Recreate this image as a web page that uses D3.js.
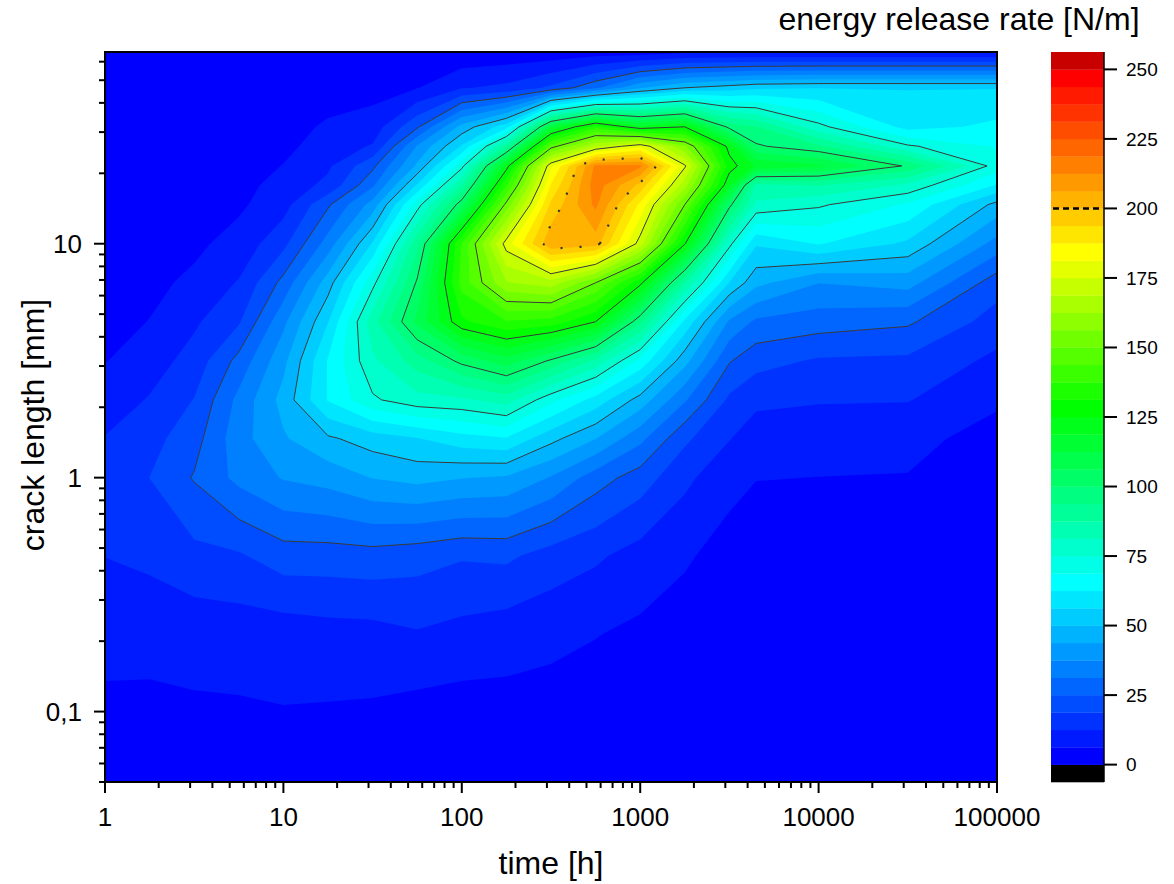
<!DOCTYPE html>
<html><head><meta charset="utf-8">
<script src="https://cdn.jsdelivr.net/npm/d3@7"></script>
<style>
body{margin:0;background:#fff;}
text{font-family:"Liberation Sans",Arial,sans-serif;fill:#000;}
</style></head><body>
<svg id="chart" width="1174" height="884"></svg>
<script>
// ---------------- data ----------------
// time nodes [h]
const timeNodes = [1, 1.778, 3.162, 5.623, 10, 17.78, 31.62, 56.23, 100, 177.8, 316.2, 562.3, 1000, 1778, 3162, 4467, 10000, 31623, 100000];
// crack length nodes [mm], from the largest to the smallest
const crackNodes = [66, 46.4, 31.6, 26.1, 21.5, 17.8, 14.7, 10, 6.81, 4.64, 3.16, 2.15, 1.47, 1, 0.464, 0.215, 0.1, 0.05];
// energy release rate [N/m] at each time node, listed along crackNodes
const G_t1      = [0.1, 0.15, 0.3, 0.5, 0.7, 1, 1.4, 2.2, 3.2, 4.3, 6, 9, 12.8, 14.5, 12.6, 8.5, 4.8, 3];
const G_t1_8    = [0.1, 0.2, 0.5, 0.8, 1.1, 1.6, 2.2, 3.4, 4.8, 6.4, 9.5, 13, 16.5, 18.8, 14, 8, 5, 3];
const G_t3_2    = [0.1, 0.3, 0.8, 1.2, 1.8, 2.5, 3.3, 5, 7.5, 11.5, 15, 19, 22.5, 25.5, 17, 8.5, 5.4, 3];
const G_t5_6    = [0.2, 0.6, 1.5, 2, 2.8, 3.8, 5.2, 8.5, 13, 18, 27, 33, 35, 33, 18, 9, 5.5, 3];
const G_t10     = [0.3, 1.2, 3, 4.5, 6.5, 9, 10, 17, 27, 36, 42, 46, 43, 38, 22, 9, 6, 3.2];
const G_t18     = [0.5, 2, 7.5, 9.5, 11.5, 14, 24, 34, 47, 56, 63, 63, 49, 40, 22, 10, 5.7, 3];
const G_t32     = [0.8, 4, 9, 13, 23.5, 30, 40, 57, 73, 85, 80, 74, 53, 44, 22.5, 10.3, 5.4, 2.5];
const G_t56     = [1, 6, 24, 38, 45, 57, 72, 92, 101, 108, 90.7, 79, 56, 45.8, 21.2, 12, 4, 2];
const G_t100    = [1.5, 12, 46, 57, 73, 88, 104, 138, 140, 130, 102, 80, 60, 44, 19.4, 10.5, 3.5, 1.8];
const G_t178    = [2, 14, 60, 90, 122, 137, 152, 178, 162, 137, 110, 84, 62, 43, 20, 9, 4, 2];
const G_t316    = [2, 20, 113, 147, 180, 188, 195, 205, 166, 135, 99, 70.6, 52, 37, 16, 8, 3.5, 1.8];
const G_t562    = [3, 30, 135, 168, 214, 216, 214, 203, 150, 125, 86, 60, 44, 28, 13.5, 6.5, 3, 1.5];
const G_t1000   = [3, 43, 120, 180, 214, 198, 186, 172, 127, 95, 67, 47.5, 33, 22, 10, 5, 2.5, 1.2];
const G_t1778   = [5, 50, 125, 157, 176, 165, 150, 125.5, 88, 61, 46, 32, 20, 14, 7, 3.5, 1.5, 0.8];
const G_t3162   = [5, 53, 98, 122.5, 128, 119.7, 102, 77, 56, 36.5, 25.5, 17.5, 12.8, 8, 4, 2, 1, 0.6];
const G_t4467   = [5, 55, 94, 101, 118, 86, 80, 57, 45.6, 30, 21, 14, 9, 6.4, 3, 1.5, 0.8, 0.5];
const G_t10000  = [5, 56, 77, 95, 113.6, 88, 76, 63, 37.6, 28, 18, 13, 8.5, 6.2, 3, 1.5, 0.8, 0.5];
const G_t31623  = [5, 56, 60, 76, 99, 80, 68, 55, 40, 26, 17.5, 12.8, 8, 6, 3, 1.5, 0.8, 0.5];
const G_t100000 = [5, 56, 64, 68, 72, 62, 48, 35, 21.5, 16, 11, 7.2, 4, 2.5, 1.5, 1, 0.5, 0.3];

const xTickValues = [1, 10, 100, 1000, 10000, 100000];
const xTickLabels = ["1", "10", "100", "1000", "10000", "100000"];
const yTickValues = [0.1, 1, 10];
const yTickLabels = ["0,1", "1", "10"];
const colorbarTicks = [0, 25, 50, 75, 100, 125, 150, 175, 200, 225, 250];
const levelStep = 6.25;
const levelCount = 41;            // 0 ... 250
const lineLevels = [25, 50, 75, 100, 125, 150, 175];
const dottedLevel = 200;

// ---------------- styles ----------------
const colorStops = [[0, [0, 0, 255]], [10, [0, 255, 255]], [20, [0, 255, 0]], [29, [255, 255, 0]], [39, [255, 0, 0]]];
function bandColor(k) {
  if (k < 0) return "#000";
  if (k >= 40) return "rgb(200,0,0)";
  for (let s = 0; s < colorStops.length - 1; s++) {
    const [k0, c0] = colorStops[s], [k1, c1] = colorStops[s + 1];
    if (k <= k1) {
      const f = (k - k0) / (k1 - k0);
      return "rgb(" + c0.map((v, i) => Math.round(v + (c1[i] - v) * f)).join(",") + ")";
    }
  }
}

// ---------------- layout ----------------
const svg = d3.select("#chart");
const X0 = 105, X1 = 997, Y0 = 52, Y1 = 782;
const x = d3.scaleLog().domain([1, 1e5]).range([X0, X1]);
const y = d3.scaleLog().domain([0.05, 66]).range([Y1, Y0]);

const columns = [G_t1, G_t1_8, G_t3_2, G_t5_6, G_t10, G_t18, G_t32, G_t56, G_t100, G_t178,
  G_t316, G_t562, G_t1000, G_t1778, G_t3162, G_t4467, G_t10000, G_t31623, G_t100000];
const nx = timeNodes.length, ny = crackNodes.length;
const values = new Array(nx * ny);
for (let j = 0; j < ny; j++) for (let i = 0; i < nx; i++) values[j * nx + i] = columns[i][j];

const gx = d3.scaleLinear().domain(d3.range(nx)).range(timeNodes.map(t => x(t))).clamp(true);
const gy = d3.scaleLinear().domain(d3.range(ny)).range(crackNodes.map(a => y(a))).clamp(true);
const P = p => [gx(p[0] - 0.5), gy(p[1] - 0.5)];
const fmt = q => q[0].toFixed(2) + "," + q[1].toFixed(2);

function polyPath(mp) {
  return mp.coordinates.map(poly => poly.map(ring => "M" + ring.map(p => fmt(P(p))).join("L") + "Z").join("")).join("");
}
function edgeSides(q) {
  const s = [];
  if (Math.abs(q[0] - X0) < 0.01) s.push("L");
  if (Math.abs(q[0] - X1) < 0.01) s.push("R");
  if (Math.abs(q[1] - Y0) < 0.01) s.push("T");
  if (Math.abs(q[1] - Y1) < 0.01) s.push("B");
  return s;
}
function linePath(mp) {
  let d = "";
  mp.coordinates.forEach(poly => poly.forEach(ring => {
    const pts = ring.map(P);
    const f = pts[0], l = pts[pts.length - 1];
    if (f[0] !== l[0] || f[1] !== l[1]) pts.push(f);
    let pen = false;
    for (let i = 0; i < pts.length - 1; i++) {
      const a = pts[i], b = pts[i + 1];
      const sa = edgeSides(a), sb = edgeSides(b);
      if (sa.some(s => sb.includes(s))) { pen = false; continue; }
      if (!pen) { d += "M" + fmt(a); pen = true; }
      d += "L" + fmt(b);
    }
  }));
  return d;
}

// filled bands
const fillThresholds = d3.range(levelCount).map(k => k * levelStep);
const fills = d3.contours().size([nx, ny]).smooth(true).thresholds(fillThresholds)(values);
svg.append("g").selectAll("path").data(fills).join("path")
  .attr("d", polyPath)
  .attr("fill", (c, k) => bandColor(k))
  .attr("fill-rule", "evenodd");

// contour lines
const lines = d3.contours().size([nx, ny]).thresholds(lineLevels)(values);
svg.append("g").selectAll("path").data(lines).join("path")
  .attr("d", linePath).attr("fill", "none").attr("stroke", "#3a3a3a").attr("stroke-width", 1);
const dotted = d3.contours().size([nx, ny]).thresholds([dottedLevel])(values);
svg.append("g").selectAll("path").data(dotted).join("path")
  .attr("d", linePath).attr("fill", "none").attr("stroke", "#333").attr("stroke-width", 2.2)
  .attr("stroke-dasharray", "2,17");

// frame
svg.append("rect").attr("x", X0).attr("y", Y0).attr("width", X1 - X0).attr("height", Y1 - Y0)
  .attr("fill", "none").attr("stroke", "#000").attr("stroke-width", 2);

// x axis ticks
const axG = svg.append("g").attr("stroke", "#000").attr("stroke-width", 2);
const xMinor = [];
for (let d = 0; d < 5; d++) for (let m = 2; m <= 9; m++) xMinor.push(m * Math.pow(10, d));
xMinor.forEach(v => axG.append("line").attr("x1", x(v)).attr("x2", x(v)).attr("y1", Y1).attr("y2", Y1 + 6));
xTickValues.forEach(v => axG.append("line").attr("x1", x(v)).attr("x2", x(v)).attr("y1", Y1).attr("y2", Y1 + 11));
xTickValues.forEach((v, i) => svg.append("text").attr("x", x(v)).attr("y", 826)
  .attr("text-anchor", "middle").attr("font-size", 26).text(xTickLabels[i]));

// y axis ticks
const yMinor = [];
[0.01, 0.1, 1, 10].forEach(d => { for (let m = 2; m <= 9; m++) { const v = m * d; if (v >= 0.05 && v <= 66) yMinor.push(v); } });
yMinor.forEach(v => axG.append("line").attr("x1", X0 - 6).attr("x2", X0).attr("y1", y(v)).attr("y2", y(v)));
yTickValues.forEach(v => axG.append("line").attr("x1", X0 - 11).attr("x2", X0).attr("y1", y(v)).attr("y2", y(v)));
yTickValues.forEach((v, i) => svg.append("text").attr("x", 82).attr("y", y(v)).attr("dy", "0.36em")
  .attr("text-anchor", "end").attr("font-size", 26).text(yTickLabels[i]));

// axis titles
svg.append("text").attr("x", (X0 + X1) / 2).attr("y", 874).attr("text-anchor", "middle")
  .attr("font-size", 32).text("time [h]");
svg.append("text").attr("transform", "translate(44," + ((Y0 + Y1) / 2 + 8) + ") rotate(-90)")
  .attr("text-anchor", "middle").attr("font-size", 32).text("crack length [mm]");

// colour bar
const cbX = 1051, cbW = 53;
const cy = d3.scaleLinear().domain([-levelStep, levelStep * levelCount]).range([Y1, Y0]);
const cbG = svg.append("g");
for (let k = -1; k < levelCount; k++) {
  const top = cy(levelStep * (k + 1)), bot = cy(levelStep * k);
  cbG.append("rect").attr("x", cbX).attr("y", top).attr("width", cbW).attr("height", bot - top + 0.3)
    .attr("fill", bandColor(k));
}
cbG.append("line").attr("x1", cbX + cbW).attr("x2", cbX + cbW).attr("y1", Y0).attr("y2", Y1)
  .attr("stroke", "#000").attr("stroke-width", 1.5);
colorbarTicks.forEach(v => {
  cbG.append("line").attr("x1", cbX + cbW).attr("x2", cbX + cbW + 13).attr("y1", cy(v)).attr("y2", cy(v))
    .attr("stroke", "#000").attr("stroke-width", 2);
  cbG.append("text").attr("x", 1126).attr("y", cy(v)).attr("dy", "0.36em").attr("font-size", 19).text(v);
});
cbG.append("line").attr("x1", cbX + 2).attr("x2", cbX + cbW - 2).attr("y1", cy(dottedLevel)).attr("y2", cy(dottedLevel))
  .attr("stroke", "#000").attr("stroke-width", 2.5).attr("stroke-dasharray", "6,4");
svg.append("text").attr("x", 959).attr("y", 30).attr("text-anchor", "middle").attr("font-size", 32)
  .text("energy release rate [N/m]");
</script>
</body></html>
